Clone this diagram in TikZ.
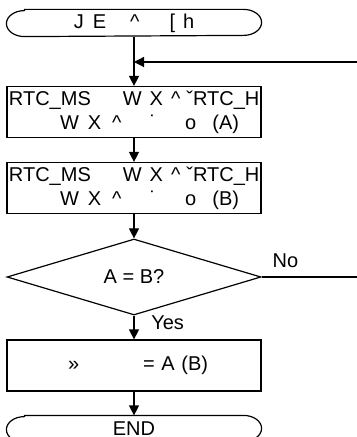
\documentclass[tikz,border=0pt]{standalone}
\usepackage{fontspec}
\setmainfont{Liberation Sans}
\usetikzlibrary{arrows.meta,shapes.geometric}

\begin{document}
\begin{tikzpicture}[x=0.5pt,y=-0.5pt,line width=0.6pt,
    font=\fontsize{10}{12}\selectfont,
    flow/.style={-{Triangle[width=5pt,length=5pt]}},
    procbox/.style={draw,rectangle,minimum width=127pt,minimum height=25.5pt,
                    text width=125pt,align=left,inner xsep=1pt,inner ysep=0pt},
    termbox/.style={rectangle,minimum width=127pt,minimum height=13pt,inner sep=0pt},
    testbox/.style={draw,diamond,aspect=3.3,minimum width=127pt,minimum height=38pt,inner sep=0pt}]
    \useasboundingbox (0,0) rectangle (357,437);

    % Terminal start
    \node [termbox] (start) at (134,23) {J\hspace{4.5pt}E\hspace{12pt}\textasciicircum\hspace{15pt}[\hspace{4pt}h};
    \draw ([xshift=9pt]start.north west) -- ([xshift=-9pt]start.north east)
          arc [start angle=90,end angle=-90,x radius=9pt,y radius=6.5pt]
          -- ([xshift=9pt]start.south west)
          arc [start angle=270,end angle=90,x radius=9pt,y radius=6.5pt] -- cycle;

    % Reading A
    \node [procbox] (readA) at (134,112)
        {\mbox{RTC\_MS\hspace{16pt}W\hspace{4pt}X\hspace{4pt}\textasciicircum\hspace{3pt}ˇRTC\_H}\\
         \mbox{\hspace*{25.5pt}W\hspace{4.5pt}X\hspace{5.5pt}\textasciicircum\hspace{14pt}˙\hspace{14.5pt}o\hspace{8pt}(A)}};

    % Reading B
    \node [procbox] (readB) at (134,188)
        {\mbox{RTC\_MS\hspace{16pt}W\hspace{4pt}X\hspace{4pt}\textasciicircum\hspace{3pt}ˇRTC\_H}\\
         \mbox{\hspace*{25.5pt}W\hspace{4.5pt}X\hspace{5.5pt}\textasciicircum\hspace{14pt}˙\hspace{14.5pt}o\hspace{8pt}(B)}};

    % Compare
    \node [testbox] (same) at (134,277) {A = B?};

    % Result
    \node [procbox] (result) at (134,365.5)
        {\mbox{\hspace*{29.5pt}»\hspace{32pt}= A (B)}};

    % Terminal end
    \node [termbox] (stop) at (134,429) {\raisebox{0.7pt}{END}};
    \draw ([xshift=9pt]stop.north west) -- ([xshift=-9pt]stop.north east)
          arc [start angle=90,end angle=-90,x radius=9pt,y radius=6.5pt]
          -- ([xshift=9pt]stop.south west)
          arc [start angle=270,end angle=90,x radius=9pt,y radius=6.5pt] -- cycle;

    % Loop back and exit points
    \coordinate (join) at (134,62);
    \coordinate (loopin) at (357,62);
    \coordinate (noout) at (357,277);

    % Connectors
    \draw [flow] (start.south) -- (readA.north);
    \draw [flow] (loopin) -- (join);
    \draw [flow] (readA) -- (readB);
    \draw [flow] (readB) -- (same);
    \draw [flow] (same) -- node [pos=0.3,right=5pt] {Yes} (result);
    \draw [flow] (result) -- (stop.north);
    \draw (same.east) -- node [pos=0.25,above=1pt] {No} (noout);
\end{tikzpicture}
\end{document}
